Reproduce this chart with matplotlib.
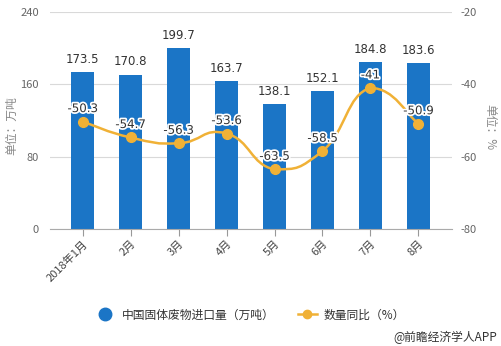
import matplotlib
matplotlib.use('Agg')
from matplotlib import pyplot as plt
from matplotlib.path import Path
from matplotlib.patches import PathPatch
from matplotlib.lines import Line2D
import matplotlib.patheffects as pe

plt.rcParams['font.family'] = ['Noto Sans CJK SC', 'DejaVu Sans']
plt.rcParams['axes.unicode_minus'] = False

# data
months = ['2018年1月', '2月', '3月', '4月', '5月', '6月', '7月', '8月']
imports = [173.5, 170.8, 199.7, 163.7, 138.1, 152.1, 184.8, 183.6]
yoy = [-50.3, -54.7, -56.3, -53.6, -63.5, -58.5, -41, -50.9]
yoy_labels = ['-50.3', '-54.7', '-56.3', '-53.6', '-63.5', '-58.5', '-41', '-50.9']

bar_color = '#1b75c6'
line_color = '#f0b136'
grid_color = '#d9d9d9'
tick_color = '#666666'

fig = plt.figure(figsize=(5.01, 3.46), dpi=100)
ax = fig.add_axes([50 / 501, 117 / 346, 402 / 501, 217 / 346])
ax2 = ax.twinx()

x = list(range(len(months)))

# bars
ax.bar(x, imports, width=0.48, color=bar_color, zorder=2)
for xi, v in zip(x, imports):
    ax.text(xi, v + 7, f'{v}', ha='center', va='bottom', fontsize=8.5,
            family='DejaVu Sans', color='#333333', zorder=5)

ax.set_ylim(0, 240)
ax.set_yticks([0, 80, 160, 240])
ax.set_xlim(-0.68, 7.70)
ax.set_xticks(x)
ax.set_xticklabels(months, rotation=45, ha='right', rotation_mode='anchor',
                   fontsize=8, color='#444444')
ax.tick_params(axis='x', length=5, color='#999999', pad=2)
ax.tick_params(axis='y', length=0, labelsize=8, labelcolor=tick_color, pad=8)
ax.grid(axis='y', color=grid_color, linewidth=0.8, zorder=0)
ax.set_axisbelow(True)
for s in ['top', 'left', 'right']:
    ax.spines[s].set_visible(False)
ax.spines['bottom'].set_color('#aaaaaa')

# smoothed line on right axis
ax2.set_ylim(-80, -20)
ax2.set_yticks([-80, -60, -40, -20])
ax2.tick_params(axis='y', length=0, labelsize=8, labelcolor=tick_color, pad=6)
for s in ax2.spines.values():
    s.set_visible(False)

smooth = 0.5
lo, hi = min(yoy), max(yoy)
pts = list(zip(x, yoy))


def clamp(v):
    return max(lo, min(hi, v))


verts = [pts[0]]
codes = [Path.MOVETO]
for i in range(len(pts) - 1):
    p0 = pts[i - 1] if i > 0 else pts[i]
    p1 = pts[i]
    p2 = pts[i + 1]
    p3 = pts[i + 2] if i + 2 < len(pts) else pts[i + 1]
    c1 = (p1[0] + (p2[0] - p0[0]) * smooth / 2, clamp(p1[1] + (p2[1] - p0[1]) * smooth / 2))
    c2 = (p2[0] - (p3[0] - p1[0]) * smooth / 2, clamp(p2[1] - (p3[1] - p1[1]) * smooth / 2))
    verts += [c1, c2, p2]
    codes += [Path.CURVE4, Path.CURVE4, Path.CURVE4]
ax2.add_patch(PathPatch(Path(verts, codes), facecolor='none', edgecolor=line_color,
                        linewidth=1.8, zorder=3))
ax2.plot(x, yoy, 'o', color=line_color, markersize=7, zorder=4)
for xi, v, lab in zip(x, yoy, yoy_labels):
    ax2.text(xi, v + 1.8, lab, ha='center', va='bottom', fontsize=8.5,
             family='DejaVu Sans', color='#333333', zorder=6,
             path_effects=[pe.withStroke(linewidth=2.5, foreground='white')])

# axis titles
fig.text(12 / 501, 1 - 126 / 346, '单位：万吨', rotation=90, ha='center', va='center',
         fontsize=8.5, color='#888888')
fig.text(490 / 501, 1 - 127 / 346, '单位：%', rotation=270, ha='center', va='center',
         fontsize=8.5, color='#888888')

# legend
handles = [
    Line2D([], [], marker='o', linestyle='none', color=bar_color, markersize=9),
    Line2D([], [], marker='o', linestyle='-', color=line_color, markersize=6, linewidth=1.8),
]
fig.legend(handles, ['中国固体废物进口量（万吨）', '数量同比（%）'],
           loc='center', bbox_to_anchor=(0.5, 1 - 315 / 346), ncol=2, frameon=False,
           fontsize=8.5, handlelength=1.6, columnspacing=2.0, handletextpad=0.6,
           labelcolor='#333333')

fig.text(497 / 501, 1 - 337 / 346, '@前瞻经济学人APP', ha='right', va='center',
         fontsize=8.5, color='#333333')

fig.savefig('out.png', dpi=100)
